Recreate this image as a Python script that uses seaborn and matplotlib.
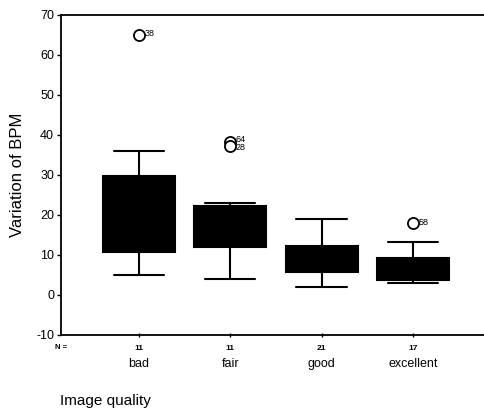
import numpy as np
import pandas as pd
import matplotlib
matplotlib.use("Agg")
import matplotlib.pyplot as plt
import matplotlib.transforms as mtransforms
import seaborn as sns

categories = ["bad", "fair", "good", "excellent"]
n_counts = ["11", "11", "21", "17"]
# five-number summaries: lower whisker, Q1, median, Q3, upper whisker
whisker_low = [5, 4, 2, 3]
q1 = [10.7, 11.9, 5.7, 3.8]
median = [20, 17, 9, 6]
q3 = [29.8, 22.2, 12.2, 9.1]
whisker_high = [36, 23, 19, 13.2]
outlier_cat = ["bad", "fair", "fair", "excellent"]
outlier_val = [65, 38.2, 37.2, 17.9]
outlier_lbl = ["38", "64", "28", "58"]

sns.set_style("white")
plt.rcParams["font.family"] = ["Liberation Sans", "DejaVu Sans"]
plt.rcParams["axes.unicode_minus"] = False
plt.rcParams["text.color"] = "black"
plt.rcParams["axes.labelcolor"] = "black"
plt.rcParams["xtick.color"] = "black"
plt.rcParams["ytick.color"] = "black"

rows = []
for i, c in enumerate(categories):
    for v in (whisker_low[i], q1[i], median[i], q3[i], whisker_high[i]):
        rows.append({"quality": c, "bpm": v})
df = pd.DataFrame(rows)
odf = pd.DataFrame({"quality": outlier_cat, "bpm": outlier_val})

fig = plt.figure(figsize=(4.85, 4.11), dpi=100)
ax = fig.add_axes([0.1258, 0.185, 0.8742, 0.7797])

sns.boxplot(data=df, x="quality", y="bpm", order=categories, whis=(0, 100),
            width=0.79, color="black", linecolor="black", linewidth=1.5,
            saturation=1, fill=True, showfliers=False, capwidths=0.55, ax=ax)
sns.stripplot(data=odf, x="quality", y="bpm", order=categories, jitter=False,
              color="white", edgecolor="black", linewidth=1.3, size=8,
              marker="o", ax=ax, zorder=5)

label_dy = [0.5, 1.5, -1.0, 0.5]
for c, v, l, dy in zip(outlier_cat, outlier_val, outlier_lbl, label_dy):
    xi = categories.index(c)
    ax.annotate(l, (xi, v), xytext=(4, dy), textcoords="offset points",
                fontsize=6.5, va="center", ha="left")

ax.set_xlim(-0.854, 3.79)
ax.set_ylim(-10, 70)
ax.set_yticks(range(-10, 71, 10))
ax.set_xticks(range(len(categories)))
ax.set_xticklabels(n_counts, fontsize=6, fontweight="bold")
ax.tick_params(axis="y", labelsize=9, length=3, width=1, direction="out", pad=2, left=True)
ax.tick_params(axis="x", length=3, width=1, direction="inout", pad=6, bottom=True)
ax.set_ylabel("Variation of BPM", fontsize=12, labelpad=8)
ax.set_xlabel("")
for s in ["left", "top", "bottom"]:
    ax.spines[s].set_visible(True)
    ax.spines[s].set_linewidth(1.3)
    ax.spines[s].set_color("black")
ax.spines["right"].set_visible(False)

trans = mtransforms.blended_transform_factory(ax.transData, ax.transAxes)
for i, c in enumerate(categories):
    ax.text(i, -0.09, c, transform=trans, ha="center", va="center", fontsize=9)
ax.text(-0.92, -0.038, "N =", transform=trans, ha="left", va="center",
        fontsize=5.5, fontweight="bold")

fig.text(0.124, 0.025, "Image quality", fontsize=11, ha="left", va="center")

fig.savefig("out.png", dpi=100)
